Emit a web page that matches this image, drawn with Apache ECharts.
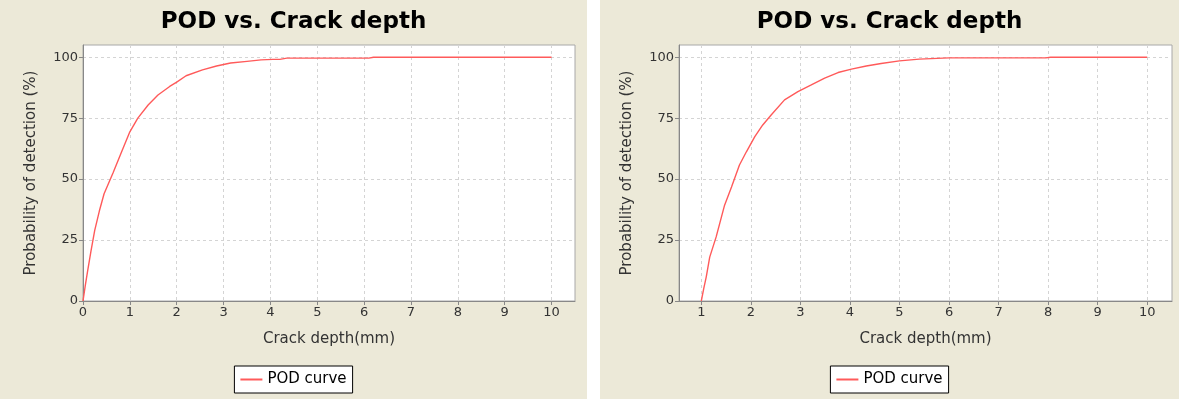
<!DOCTYPE html>
<html>
<head>
<meta charset="utf-8">
<script src="https://cdn.jsdelivr.net/npm/echarts@6/dist/echarts.min.js"></script>
<style>
  html, body { margin: 0; padding: 0; background: #fff; }
  .panel { position: absolute; top: 0; height: 399px; background: #ece9d8; }
</style>
</head>
<body>
<div id="left" class="panel" style="left:0;width:587px;"></div>
<div id="right" class="panel" style="left:600px;width:579px;"></div>
<script>
const chartTitle = 'POD vs. Crack depth';
const xAxisName = 'Crack depth(mm)';
const yAxisName = 'Probability of detection (%)';
const legendName = 'POD curve';

// y ticks shared by both charts
const yTicks = [0, 25, 50, 75, 100];
const leftXTicks = [0, 1, 2, 3, 4, 5, 6, 7, 8, 9, 10];
const rightXTicks = [1, 2, 3, 4, 5, 6, 7, 8, 9, 10];

// left chart: crack depth (mm) / POD (%)
const leftDepth = [0, 0.05, 0.1, 0.17, 0.25, 0.35, 0.45, 0.64, 0.82, 1.0, 1.17, 1.39, 1.6, 1.85, 2.0, 2.2, 2.55, 2.85, 3.15, 3.5, 3.8, 4.05, 4.2, 4.35, 6.1, 6.2, 10];
const leftPod = [0, 6.5, 12.5, 20.5, 29, 37, 44, 52.5, 61, 69.4, 75, 80.4, 84.5, 88, 89.8, 92.4, 94.8, 96.4, 97.6, 98.3, 98.9, 99.1, 99.1, 99.6, 99.6, 100, 100];

// right chart
const rightDepth = [1, 1.05, 1.1, 1.17, 1.3, 1.47, 1.61, 1.77, 1.91, 2.08, 2.24, 2.41, 2.68, 2.95, 3.22, 3.49, 3.76, 4.03, 4.33, 4.63, 5.0, 5.4, 6.0, 7.95, 8.05, 10];
const rightPod = [0, 5.2, 9.9, 18, 26.3, 39.3, 46.8, 55.8, 61.2, 67.4, 72.2, 76.3, 82.5, 85.9, 88.6, 91.4, 93.7, 95.1, 96.4, 97.4, 98.5, 99.2, 99.7, 99.7, 100, 100];

const FONT = 'DejaVu Sans';
const textColor = '#333';
const axisColor = '#888';

function buildOption({ grid, xMin, xTicks, depth, pod }) {
  const axisCommon = {
    type: 'value',
    nameLocation: 'middle',
    nameTextStyle: { fontFamily: FONT, fontSize: 15, color: textColor },
    axisLine: { show: true, lineStyle: { color: axisColor } },
    axisTick: { show: true, length: 4, lineStyle: { color: axisColor } },
    axisLabel: { fontFamily: FONT, fontSize: 13, color: textColor, margin: 5 },
    splitLine: { show: true, lineStyle: { color: '#d4d4d4', type: [3, 3] } },
  };
  return {
    animation: false,
    title: {
      text: chartTitle,
      left: 'center',
      top: 6,
      textStyle: { fontFamily: FONT, fontSize: 23, fontWeight: 'bold', color: '#000' },
    },
    legend: {
      left: 'center',
      top: 366,
      data: [{ name: legendName, icon: 'rect' }],
      itemWidth: 22,
      itemHeight: 2,
      itemGap: 4,
      padding: [6, 6],
      backgroundColor: '#fff',
      borderColor: '#000',
      borderWidth: 1,
      borderRadius: 0,
      textStyle: { fontFamily: FONT, fontSize: 15, color: '#000' },
    },
    grid: {
      ...grid,
      show: true,
      backgroundColor: '#fff',
      borderColor: '#a8a8a8',
      borderWidth: 1,
    },
    xAxis: {
      ...axisCommon,
      name: xAxisName,
      nameGap: 31,
      min: xMin,
      max: 10.5,
      axisTick: { ...axisCommon.axisTick, customValues: xTicks },
      axisLabel: { ...axisCommon.axisLabel, customValues: xTicks },
    },
    yAxis: {
      ...axisCommon,
      name: yAxisName,
      nameGap: 44,
      min: 0,
      max: 105,
      axisTick: { ...axisCommon.axisTick, customValues: yTicks },
      axisLabel: { ...axisCommon.axisLabel, customValues: yTicks },
    },
    series: [
      {
        name: legendName,
        type: 'line',
        symbol: 'none',
        color: '#ff5a5a',
        lineStyle: { width: 1.4 },
        data: depth.map((d, i) => [d, pod[i]]),
      },
    ],
  };
}

const leftChart = echarts.init(document.getElementById('left'));
leftChart.setOption(buildOption({
  grid: { left: 83, right: 12, top: 45, bottom: 98 },
  xMin: 0,
  xTicks: leftXTicks,
  depth: leftDepth,
  pod: leftPod,
}));

const rightChart = echarts.init(document.getElementById('right'));
rightChart.setOption(buildOption({
  grid: { left: 79, right: 7, top: 45, bottom: 98 },
  xMin: 0.55,
  xTicks: rightXTicks,
  depth: rightDepth,
  pod: rightPod,
}));
</script>
</body>
</html>
